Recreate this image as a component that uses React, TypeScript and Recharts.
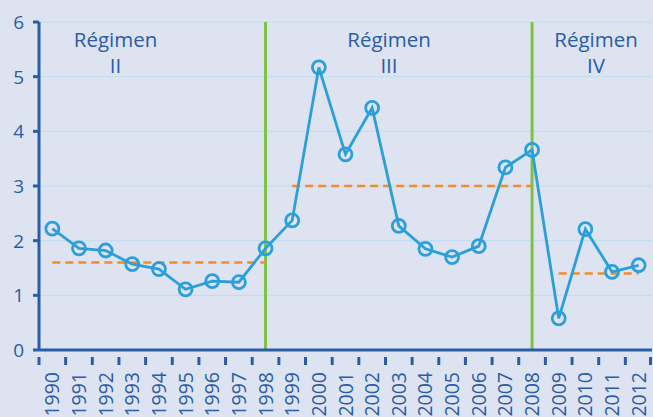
import React from 'react';
import { LineChart, Line, XAxis, YAxis, CartesianGrid, ReferenceLine } from 'recharts';

const years = ['1990','1991','1992','1993','1994','1995','1996','1997','1998','1999','2000','2001','2002','2003','2004','2005','2006','2007','2008','2009','2010','2011','2012'];
const values = [2.22,1.86,1.82,1.57,1.48,1.11,1.26,1.24,1.86,2.37,5.17,3.58,4.43,2.27,1.85,1.70,1.90,3.34,3.66,0.58,2.21,1.43,1.55];
const regimeMeans = [1.6, 3.0, 1.4];
const regimeStarts = ['1990','1999','2009'];
const regimeEnds = ['1998','2008','2012'];
const yTicks = [0,1,2,3,4,5,6];
const breakYears = ['1998','2008'];
const regimeTitles = ['Régimen', 'Régimen', 'Régimen'];
const regimeNumerals = ['II', 'III', 'IV'];

const W = 653;
const H = 417;
const MARGIN = { top: 22, right: 1, left: 0, bottom: 0 };
const YW = 39;
const XH = 67;
const BAND = (W - MARGIN.left - MARGIN.right - YW) / years.length;

const BLUE_DARK = '#2A5CA8';
const LINE_BLUE = '#2A9FD8';
const ORANGE = '#F28C28';
const GREEN = '#7DC242';
const BG = '#DDE3F1';
const GRID = '#BFDCF2';
const FONT = '"Open Sans", sans-serif';

const data = years.map((y, i) => {
  const row: any = { year: y, value: values[i] };
  regimeMeans.forEach((m, k) => {
    const s = years.indexOf(regimeStarts[k]);
    const e = years.indexOf(regimeEnds[k]);
    row['m' + k] = i >= s && i <= e ? m : null;
  });
  return row;
});

const XTick = (props: any) => {
  const { x, y, payload, index } = props;
  const left = x - BAND / 2;
  const isLast = index === years.length - 1;
  return (
    <g>
      <line x1={left} y1={y - 1} x2={left} y2={y + 7} stroke={BLUE_DARK} strokeWidth={3} />
      {isLast && <line x1={x + BAND / 2 - 1.5} y1={y - 1} x2={x + BAND / 2 - 1.5} y2={y + 7} stroke={BLUE_DARK} strokeWidth={3} />}
      <text
        transform={`translate(${x},${y + 14}) rotate(-90)`}
        textAnchor="end"
        dy="0.36em"
        fill={BLUE_DARK}
        fontSize={19.5}
        fontFamily={FONT}
      >
        {payload.value}
      </text>
    </g>
  );
};

const YTick = (props: any) => {
  const { x, y, payload } = props;
  return (
    <text x={x} y={y} dy="0.36em" textAnchor="end" fill={BLUE_DARK} fontSize={19} fontFamily={FONT}>
      {payload.value}
    </text>
  );
};

const regimeCenters = [115.5, 389, 596];

export default function App() {
  return (
    <div style={{ position: 'absolute', left: 0, top: 0, width: W, height: H, background: BG, overflow: 'hidden' }}>
      <LineChart width={W} height={H} data={data} margin={MARGIN}>
        <CartesianGrid horizontal={true} vertical={false} stroke={GRID} strokeWidth={1} />
        <XAxis
          dataKey="year"
          height={XH}
          interval={0}
          padding={{ left: BAND / 2, right: BAND / 2 }}
          axisLine={{ stroke: BLUE_DARK, strokeWidth: 3 }}
          tickLine={false}
          tick={<XTick />}
        />
        <YAxis
          domain={[0, 6]}
          ticks={yTicks}
          width={YW}
          axisLine={{ stroke: BLUE_DARK, strokeWidth: 3 }}
          tickLine={{ stroke: BLUE_DARK, strokeWidth: 3 }}
          tickSize={6}
          tickMargin={9}
          tick={<YTick />}
        />
        {breakYears.map((b) => (
          <ReferenceLine key={b} x={b} stroke={GREEN} strokeWidth={3} />
        ))}
        {regimeMeans.map((_, k) => (
          <Line
            key={'m' + k}
            dataKey={'m' + k}
            stroke={ORANGE}
            strokeWidth={2.5}
            strokeDasharray="8 5"
            dot={false}
            activeDot={false}
            connectNulls={false}
            isAnimationActive={false}
          />
        ))}
        <Line
          dataKey="value"
          stroke={LINE_BLUE}
          strokeWidth={2.8}
          dot={{ r: 6.5, stroke: LINE_BLUE, strokeWidth: 2.8, fill: 'none' }}
          activeDot={false}
          isAnimationActive={false}
        />
      </LineChart>
      {regimeCenters.map((cx, k) => (
        <div
          key={k}
          style={{
            position: 'absolute',
            left: cx,
            top: 26,
            transform: 'translateX(-50%)',
            textAlign: 'center',
            color: BLUE_DARK,
            fontFamily: FONT,
            fontSize: 20.5,
            lineHeight: '26px',
            whiteSpace: 'nowrap',
          }}
        >
          <div>{regimeTitles[k]}</div>
          <div>{regimeNumerals[k]}</div>
        </div>
      ))}
    </div>
  );
}
